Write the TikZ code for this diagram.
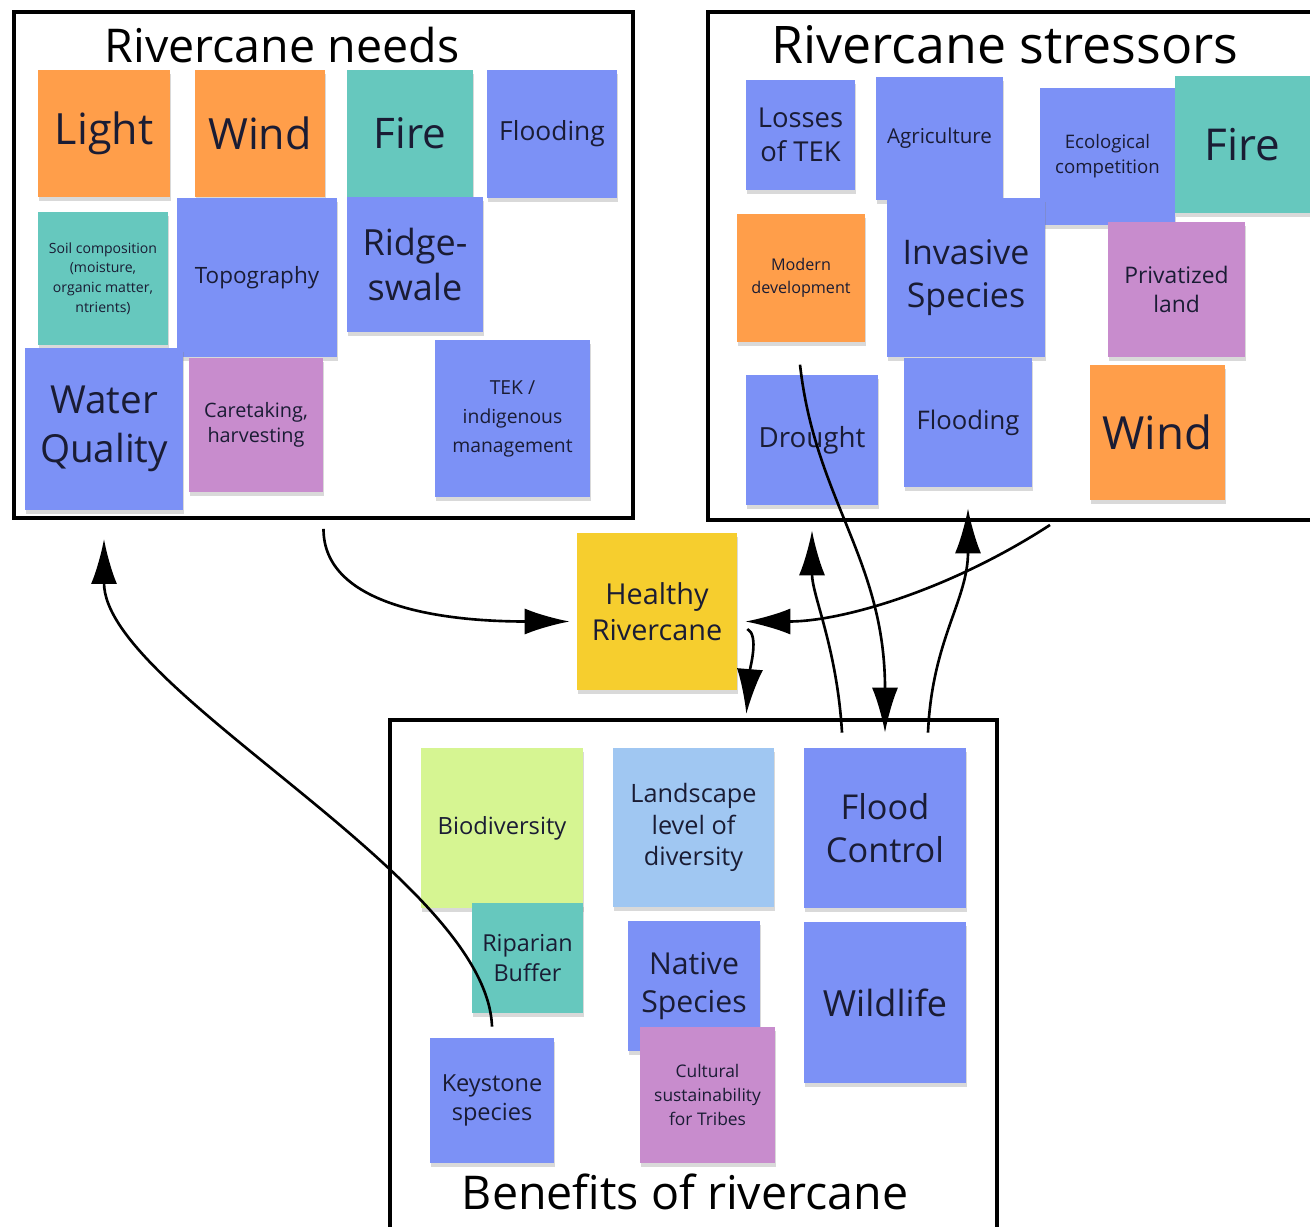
\documentclass[tikz,border=0pt]{standalone}
\usepackage{fontspec}
\setmainfont{Open Sans}
\usetikzlibrary{arrows.meta,shadows}

\definecolor{nOrange}{RGB}{255,158,74}
\definecolor{nTeal}{RGB}{102,200,190}
\definecolor{nBlue}{RGB}{124,145,246}
\definecolor{nPurple}{RGB}{200,140,205}
\definecolor{nYellow}{RGB}{246,206,46}
\definecolor{nGreen}{RGB}{214,245,146}
\definecolor{nSky}{RGB}{160,199,242}
\definecolor{nInk}{RGB}{26,28,52}

\newcommand{\fsz}[2][1.25]{\fontsize{#2}{\fpeval{#1*#2}}\selectfont}

\begin{document}
\begin{tikzpicture}[x=0.02cm, y=-0.02cm,
note/.style={rectangle, fill=#1, text=nInk, align=center, inner sep=1pt,
  drop shadow={shadow xshift=0.6pt, shadow yshift=-2.5pt, opacity=0.3}},
frame/.style={draw, line width=2.3pt, inner sep=0pt},
title/.style={font=\fsz{26.5}},
arr/.style={-{Latex[length=0.9cm,width=0.52cm]}, line width=1.5pt}
]
\useasboundingbox (0,0) rectangle (1310,1226);
\clip (0,0) rectangle (1310,1226);

% frames
\node[frame, minimum width=12.38cm, minimum height=10.12cm] (needsbox) at (323.5,265) {};
\node[frame, minimum width=12.24cm, minimum height=10.16cm] (stressbox) at (1014,266) {};
\node[frame, minimum width=12.14cm, minimum height=10.4cm] (benefitbox) at (693.5,980) {};

\node[title] (needstitle) at (282,45) {Rivercane needs};
\node[title, font=\fsz{29.5}] (stresstitle) at (1005,45) {Rivercane stressors};
\node[title] (benefittitle) at (685,1192) {Benefits of rivercane};

% needs
\node[note=nOrange, minimum width=2.64cm, minimum height=2.54cm, font=\fsz{24.5}] (light) at (104,133.5) {Light};
\node[note=nOrange, minimum width=2.60cm, minimum height=2.54cm, font=\fsz{24.5}] (wind) at (260,133.5) {Wind};
\node[note=nTeal, minimum width=2.52cm, minimum height=2.54cm, font=\fsz{24}] (fire) at (410,133.5) {Fire};
\node[note=nBlue, minimum width=2.60cm, minimum height=2.56cm, font=\fsz{15}] (flooding) at (552,134) {Flooding};
\node[note=nTeal, minimum width=2.60cm, minimum height=2.66cm, font={\fsz[1.4]{8}}] (soil) at (103,278.5)
  {Soil composition\\(moisture,\\organic matter,\\ntrients)};
\node[note=nBlue, minimum width=3.20cm, minimum height=3.18cm, font=\fsz{12.8}] (topo) at (257,277.5) {Topography};
\node[note=nBlue, minimum width=2.72cm, minimum height=2.70cm, font=\fsz{20.5}] (ridge) at (415,264.5) {Ridge-\\swale};
\node[note=nBlue, minimum width=3.16cm, minimum height=3.24cm, font=\fsz{22}] (water) at (104,429) {Water\\Quality};
\node[note=nPurple, minimum width=2.68cm, minimum height=2.68cm, font=\fsz{11.3}] (care) at (256,425) {Caretaking,\\harvesting};
\node[note=nBlue, minimum width=3.10cm, minimum height=3.14cm, font={\fsz[1.5]{11}}] (tek) at (512.5,418.5)
  {TEK /\\indigenous\\management};

% stressors
\node[note=nBlue, minimum width=2.18cm, minimum height=2.20cm, font=\fsz{15.6}] (losses) at (800.5,135) {Losses\\of TEK};
\node[note=nBlue, minimum width=2.54cm, minimum height=2.46cm, font=\fsz{11.7}] (agri) at (939.5,138.5) {Agriculture};
\node[note=nBlue, minimum width=2.70cm, minimum height=2.74cm, font={\fsz[1.35]{10.6}}] (eco) at (1107.5,156.5) {Ecological\\competition};
\node[note=nTeal, minimum width=2.70cm, minimum height=2.74cm, font=\fsz{25}] (firetwo) at (1242.5,144.5) {Fire};
\node[note=nOrange, minimum width=2.56cm, minimum height=2.56cm, font={\fsz[1.45]{9.2}}] (modern) at (801,278) {Modern\\development};
\node[note=nBlue, minimum width=3.16cm, minimum height=3.18cm, font=\fsz{19.3}] (invasive) at (966,277.5) {Invasive\\Species};
\node[note=nPurple, minimum width=2.74cm, minimum height=2.70cm, font=\fsz{13}] (priv) at (1176.5,289.5) {Privatized\\land};
\node[note=nBlue, minimum width=2.64cm, minimum height=2.60cm, font=\fsz{15.8}] (drought) at (812,440) {Drought};
\node[note=nBlue, minimum width=2.56cm, minimum height=2.58cm, font=\fsz{14.6}] (floodtwo) at (968,422.5) {Flooding};
\node[note=nOrange, minimum width=2.70cm, minimum height=2.70cm, font=\fsz{26}] (windtwo) at (1157.5,432.5) {Wind};

% centre
\node[note=nYellow, minimum width=3.20cm, minimum height=3.14cm, font=\fsz{16.4}] (healthy) at (657,611.5) {Healthy\\Rivercane};

% benefits
\node[note=nGreen, minimum width=3.24cm, minimum height=3.20cm, font=\fsz{13.5}] (bio) at (502,828) {Biodiversity};
\node[note=nTeal, minimum width=2.22cm, minimum height=2.20cm, font=\fsz{13.3}] (riparian) at (527.5,958) {Riparian\\Buffer};
\node[note=nBlue, minimum width=2.48cm, minimum height=2.50cm, font=\fsz{13.4}] (keystone) at (492,1100.5) {Keystone\\species};
\node[note=nSky, minimum width=3.22cm, minimum height=3.18cm, font=\fsz{14.4}] (landscape) at (693.5,827.5) {Landscape\\level of\\diversity};
\node[note=nBlue, minimum width=2.64cm, minimum height=2.60cm, font=\fsz{17.2}] (native) at (694,986) {Native\\Species};
\node[note=nPurple, minimum width=2.70cm, minimum height=2.72cm, font={\fsz[1.4]{9.9}}] (cultural) at (707.5,1095)
  {Cultural\\sustainability\\for Tribes};
\node[note=nBlue, minimum width=3.24cm, minimum height=3.20cm, font=\fsz{19.5}] (floodctl) at (885,828) {Flood\\Control};
\node[note=nBlue, minimum width=3.24cm, minimum height=3.22cm, font=\fsz{20.5}] (wildlife) at (885,1002.5) {Wildlife};

% arrows
\draw[arr, shorten >=0.14cm] ([yshift=-0.18cm]needsbox.south) .. controls +(0,75) and +(-140,0) .. ([yshift=-0.2cm]healthy.west);
\draw[arr, shorten >=0.38cm] ([yshift=0.22cm]keystone.north) .. controls +(-5,-150) and +(0,170) .. (needsbox.south -| water.south);
\draw[arr, shorten >=0.16cm] ([shift={(0.72cm,-0.06cm)}]stressbox.south) .. controls +(-100,65) and +(105,0) .. ([yshift=-0.2cm]healthy.east);
\draw[arr, shorten >=0.08cm] ([shift={(0.2cm,-0.35cm)}]healthy.east) .. controls +(12,6) and +(4,-50) .. ([xshift=1.05cm]benefitbox.north);
\draw[arr, shorten >=0.5cm] ([shift={(-0.86cm,0.3cm)}]floodctl.north) .. controls +(-5,-85) and +(0,90) .. (drought.south);
\draw[arr, shorten >=0.3cm] ([shift={(-0.24cm,0.2cm)}]drought.north) .. controls +(15,135) and +(0,-188) .. (floodctl.north);
\draw[arr, shorten >=0.42cm] ([shift={(0.86cm,0.3cm)}]floodctl.north) .. controls +(4,-93) and +(0,113) .. (floodtwo.south);
\end{tikzpicture}
\end{document}
